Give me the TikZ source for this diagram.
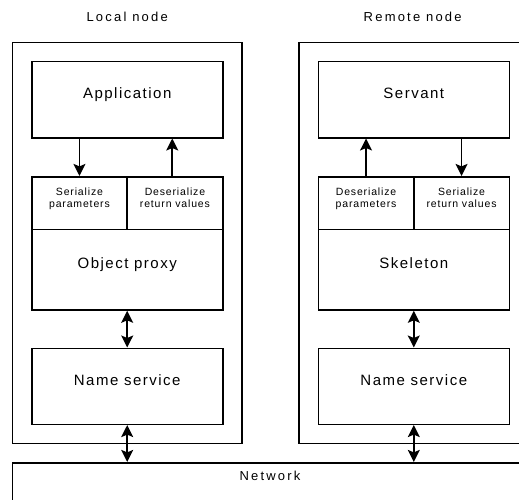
\documentclass[tikz,border=0pt]{standalone}
\usepackage{fontspec}
\setmainfont{Liberation Sans}
\newfontfamily\boxfont[LetterSpace=10]{Liberation Sans}
\newfontfamily\headfont[LetterSpace=17]{Liberation Sans}
\newfontfamily\smallfont[LetterSpace=8]{Liberation Sans}
\usetikzlibrary{arrows.meta}

\tikzset{
  frame/.style={draw, line width=1.6pt, rectangle, inner sep=0pt},
  part/.style={frame, minimum width=191pt},
  cell/.style={frame, minimum width=95.5pt, minimum height=52.6pt},
  biglbl/.style={anchor=base, inner sep=0pt, font=\boxfont\fontsize{15}{17}\selectfont},
  headlbl/.style={anchor=base, inner sep=0pt, font=\headfont\fontsize{13}{15}\selectfont},
  smalllbl/.style={anchor=base, inner sep=0pt, align=center,
    font=\smallfont\fontsize{10.5}{12.5}\selectfont},
  tip/.tip={Stealth[length=12pt,width=12pt,inset=2.5pt]},
  flow/.style={line width=1.6pt, -tip},
  bothway/.style={line width=1.6pt, tip-tip}
}

\begin{document}
\begin{tikzpicture}[x=1pt, y=-1pt]
\useasboundingbox (0,0) rectangle (519,500);
\clip (0,0) rectangle (519,500);

% node frames
\node[frame, minimum width=229.7pt, minimum height=400.6pt] (lnode) at (127.15,243) {};
\node[frame, minimum width=241pt, minimum height=400.6pt] (rnode) at (419.5,243) {};
\node[frame, minimum width=528pt, minimum height=70pt] (net) at (276.3,497.7) {};

% local side
\node[part, minimum height=76pt] (app) at (127.2,99.7) {};
\node[cell] (lser) at (79.45,203) {};
\node[cell] (lde) at (174.95,203) {};
\node[part, minimum height=80.7pt] (proxy) at (127.2,269.65) {};
\node[part, minimum height=76pt] (lname) at (127.2,386.3) {};

% remote side
\node[part, minimum height=76pt] (srv) at (413.8,99.7) {};
\node[cell] (rde) at (366.05,203) {};
\node[cell] (rser) at (461.55,203) {};
\node[part, minimum height=80.7pt] (skel) at (413.8,269.65) {};
\node[part, minimum height=76pt] (rname) at (413.8,386.3) {};

% labels
\node[headlbl] at (127.2,21.7) {Local node};
\node[headlbl] at (412.7,21.7) {Remote node};
\node[headlbl] at (270,480.7) {Network};

\node[biglbl] at (127.2,98.3) {Application};
\node[biglbl] at (127.2,268) {Object proxy};
\node[biglbl] at (127.2,385) {Name service};
\node[biglbl] at (413.8,98.3) {Servant};
\node[biglbl] at (413.8,268) {Skeleton};
\node[biglbl] at (413.8,385) {Name service};

\node[smalllbl] at (79.45,207.5) {Serialize\\parameters};
\node[smalllbl] at (174.95,207.5) {Deserialize\\return values};
\node[smalllbl] at (366.05,207.5) {Deserialize\\parameters};
\node[smalllbl] at (461.55,207.5) {Serialize\\return values};

% connectors
\draw[flow] (app.south -| lser.north) -- (lser.north);
\draw[flow] ([xshift=-2.7pt]lde.north) -- ([xshift=-2.7pt]lde.north |- app.south);
\draw[flow] (rde.north) -- (rde.north |- srv.south);
\draw[flow] (srv.south -| rser.north) -- (rser.north);
\draw[bothway] (proxy.south) -- (lname.north);
\draw[bothway] (skel.south) -- (rname.north);
\draw[bothway] (lname.south) -- (lname.south |- net.north);
\draw[bothway] (rname.south) -- (rname.south |- net.north);
\end{tikzpicture}
\end{document}
